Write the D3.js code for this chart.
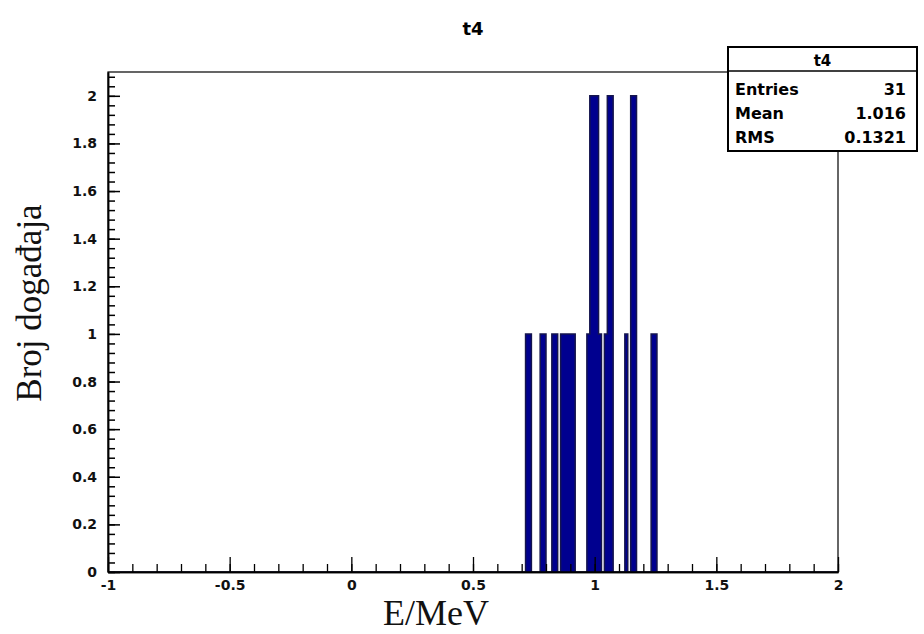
<!DOCTYPE html>
<html>
<head>
<meta charset="utf-8">
<script src="https://cdn.jsdelivr.net/npm/d3@7"></script>
<style>
  html, body { margin: 0; padding: 0; background: #ffffff; }
  svg { display: block; }
</style>
</head>
<body>
<svg id="chart" width="924" height="634"></svg>
<script>
// ---- data ----
const histTitle = "t4";
const xAxisTitle = "E/MeV";
const yAxisTitle = "Broj događaja";
const xDomain = [-1, 2];
const yDomain = [0, 2.1];
const binWidth = 0.012;
// lower edges of non-empty bins and their counts
const binLow = [0.716, 0.728, 0.776, 0.788, 0.824, 0.836, 0.860, 0.872, 0.884, 0.896, 0.908,
                0.968, 0.980, 0.992, 1.004, 1.016, 1.040, 1.052, 1.064, 1.124, 1.148, 1.160, 1.232, 1.244];
const binCount = [1, 1, 1, 1, 1, 1, 1, 1, 1, 1, 1,
                  1, 2, 2, 2, 1, 1, 2, 2, 1, 2, 2, 1, 1];
const xTickValues = [-1, -0.5, 0, 0.5, 1, 1.5, 2];
const xTickLabels = ["-1", "-0.5", "0", "0.5", "1", "1.5", "2"];
const yTickValues = [0, 0.2, 0.4, 0.6, 0.8, 1, 1.2, 1.4, 1.6, 1.8, 2];
const yTickLabels = ["0", "0.2", "0.4", "0.6", "0.8", "1", "1.2", "1.4", "1.6", "1.8", "2"];
const statsNames = ["Entries", "Mean", "RMS"];
const statsValues = ["31", "1.016", "0.1321"];

// ---- layout ----
const frame = { left: 108, right: 838, top: 72, bottom: 572 };
const svg = d3.select("#chart");
const x = d3.scaleLinear().domain(xDomain).range([frame.left, frame.right]);
const y = d3.scaleLinear().domain(yDomain).range([frame.bottom, frame.top]);

const labelFont = "'DejaVu Sans', sans-serif";
const titleFont = "'Liberation Serif', 'Times New Roman', serif";

// ---- histogram (full bin array built from the non-empty bins) ----
const nBins = Math.round((xDomain[1] - xDomain[0]) / binWidth);
const counts = new Array(nBins).fill(0);
binLow.forEach((lo, k) => {
  const idx = Math.round((lo - xDomain[0]) / binWidth);
  counts[idx] = binCount[k];
});
const pts = counts.map((c, i) => ({ x: xDomain[0] + i * binWidth, c }));
pts.push({ x: xDomain[1], c: counts[nBins - 1] });

const area = d3.area()
  .x(d => x(d.x)).y0(y(0)).y1(d => y(d.c))
  .curve(d3.curveStepAfter);
const line = d3.line()
  .x(d => x(d.x)).y(d => y(d.c))
  .curve(d3.curveStepAfter);

svg.append("path").datum(pts).attr("d", area).attr("fill", "#00008f");
svg.append("path").datum(pts).attr("d", line)
  .attr("fill", "none").attr("stroke", "#15154d").attr("stroke-width", 1.5);

// ---- frame ----
svg.append("rect")
  .attr("x", frame.left).attr("y", frame.top)
  .attr("width", frame.right - frame.left).attr("height", frame.bottom - frame.top)
  .attr("fill", "none").attr("stroke", "#000").attr("stroke-width", 1.2);

// ---- x axis ----
const xMinor = d3.range(xDomain[0], xDomain[1] + 1e-9, 0.1);
const xAxisMinor = d3.axisBottom(x).tickValues(xMinor).tickSizeInner(-8).tickSizeOuter(0).tickFormat("");
const gxm = svg.append("g").attr("transform", `translate(0,${frame.bottom})`).call(xAxisMinor);
const xAxis = d3.axisBottom(x).tickValues(xTickValues).tickSizeInner(-15).tickSizeOuter(0)
  .tickFormat((d, i) => xTickLabels[i]).tickPadding(8);
const gx = svg.append("g").attr("transform", `translate(0,${frame.bottom})`).call(xAxis);
[gx, gxm].forEach(g => {
  g.select(".domain").attr("stroke", "#000").attr("stroke-width", 1.5);
  g.selectAll(".tick line").attr("stroke", "#000").attr("stroke-width", 1.3);
});
gx.selectAll(".tick text")
  .attr("font-family", labelFont).attr("font-weight", "bold")
  .attr("font-size", 14).attr("fill", "#111");

// ---- y axis ----
const yMinor = d3.range(0, yDomain[1] + 1e-9, 0.04);
const yAxisMinor = d3.axisLeft(y).tickValues(yMinor).tickSizeInner(-7).tickSizeOuter(0).tickFormat("");
const gym = svg.append("g").attr("transform", `translate(${frame.left},0)`).call(yAxisMinor);
const yAxis = d3.axisLeft(y).tickValues(yTickValues).tickSizeInner(-12).tickSizeOuter(0)
  .tickFormat((d, i) => yTickLabels[i]).tickPadding(11);
const gy = svg.append("g").attr("transform", `translate(${frame.left},0)`).call(yAxis);
[gy, gym].forEach(g => {
  g.select(".domain").attr("stroke", "#000").attr("stroke-width", 1.5);
  g.selectAll(".tick line").attr("stroke", "#000").attr("stroke-width", 1.5);
});
gy.selectAll(".tick text")
  .attr("font-family", labelFont).attr("font-weight", "bold")
  .attr("font-size", 14).attr("fill", "#111");

// ---- titles ----
svg.append("text")
  .attr("x", (frame.left + frame.right) / 2).attr("y", 35)
  .attr("text-anchor", "middle")
  .attr("font-family", labelFont).attr("font-weight", "bold").attr("font-size", 18)
  .text(histTitle);

svg.append("text")
  .attr("x", 383).attr("y", 625)
  .attr("font-family", titleFont).attr("font-size", 36)
  .attr("fill", "#111")
  .text(xAxisTitle);

svg.append("text")
  .attr("transform", "translate(41,303) rotate(-90)")
  .attr("text-anchor", "middle")
  .attr("font-family", titleFont).attr("font-size", 35)
  .attr("fill", "#111")
  .text(yAxisTitle);

// ---- stats box ----
const box = { x: 728, y: 47, w: 189, h: 104 };
const sb = svg.append("g");
sb.append("rect").attr("x", box.x).attr("y", box.y).attr("width", box.w).attr("height", box.h)
  .attr("fill", "#fff").attr("stroke", "#000").attr("stroke-width", 2);
sb.append("line").attr("x1", box.x).attr("x2", box.x + box.w).attr("y1", 71).attr("y2", 71)
  .attr("stroke", "#000").attr("stroke-width", 1.5);
sb.append("text").attr("x", box.x + box.w / 2).attr("y", 66).attr("text-anchor", "middle")
  .attr("font-family", labelFont).attr("font-weight", "bold").attr("font-size", 15)
  .text(histTitle);
const rowY = [95, 119, 143];
statsNames.forEach((nm, i) => {
  sb.append("text").attr("x", 735).attr("y", rowY[i])
    .attr("font-family", labelFont).attr("font-weight", "bold").attr("font-size", 16)
    .text(nm);
  sb.append("text").attr("x", 906).attr("y", rowY[i]).attr("text-anchor", "end")
    .attr("font-family", labelFont).attr("font-weight", "bold").attr("font-size", 16)
    .text(statsValues[i]);
});
</script>
</body>
</html>
